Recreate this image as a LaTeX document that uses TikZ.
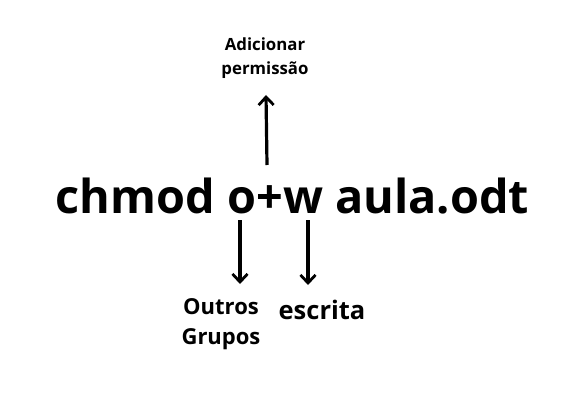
\documentclass[tikz,border=0pt]{standalone}
\usepackage{fontspec}
\setmainfont{Open Sans}
\usetikzlibrary{arrows.meta}
\begin{document}
\begin{tikzpicture}[x=1pt,y=-1pt,
  lbl/.style={font=\bfseries, align=center, inner sep=0pt},
  arr/.style={line width=3.2pt, -{Straight Barb[length=8pt,width=15pt,line width=2.8pt]}}]
\useasboundingbox (0,0) rectangle (567,401);
\fill[white] (0,0) rectangle (567,401);
\node[lbl, font=\fontsize{46.8}{50}\selectfont\bfseries, anchor=base] (cmd) at (292.5,213) {chmod o+w aula.odt};
\node[lbl, font=\fontsize{16.8}{24}\selectfont\bfseries] (perm) at (265,58) {Adicionar\\permissão};
\node[lbl, font=\fontsize{22}{30}\selectfont\bfseries] (outros) at (221,324) {Outros\\Grupos};
\node[lbl, font=\fontsize{25.5}{30}\selectfont\bfseries] (escrita) at (322,310) {escrita};
\coordinate (a1s) at (267,165);
\coordinate (a1e) at (266,95);
\coordinate (a2s) at (240,220);
\coordinate (a2e) at (240,284);
\coordinate (a3s) at (308,220);
\coordinate (a3e) at (308,285);
\draw[arr] (a1s) -- (a1e);
\draw[arr] (a2s) -- (a2e);
\draw[arr] (a3s) -- (a3e);
\end{tikzpicture}
\end{document}
